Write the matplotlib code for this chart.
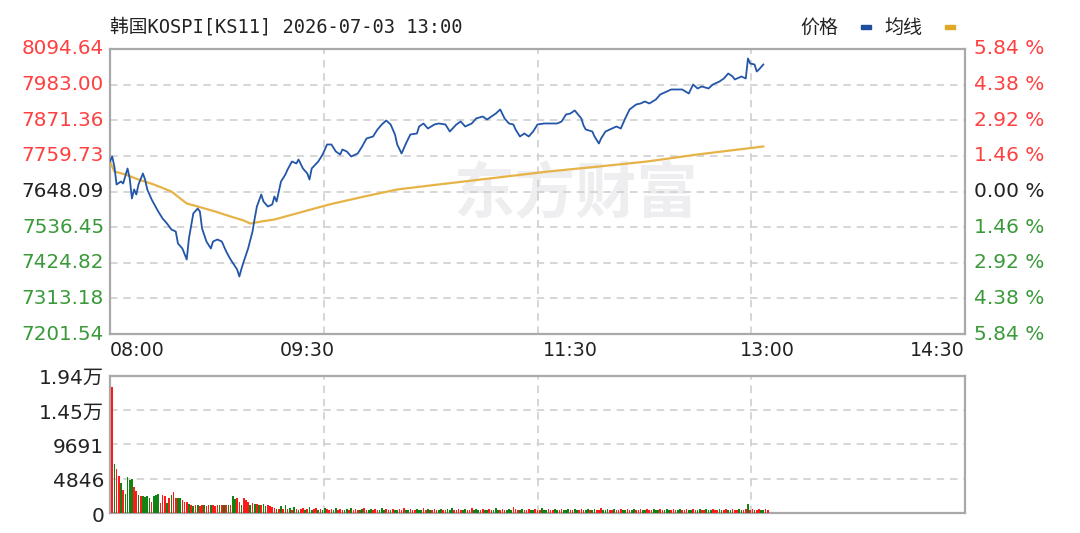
import matplotlib
matplotlib.use("Agg")
import matplotlib.pyplot as plt
from matplotlib.transforms import blended_transform_factory, ScaledTranslation
from matplotlib.patches import Rectangle

plt.rcParams['font.family'] = ['DejaVu Sans', 'Noto Sans CJK SC']

# ---- data ----
title = "韩国KOSPI[KS11] 2026-07-03 13:00"
prev_close = 7648.09
price_ticks = [8094.64, 7983.00, 7871.36, 7759.73, 7648.09, 7536.45, 7424.82, 7313.18, 7201.54]
pct_labels = ["5.84 %", "4.38 %", "2.92 %", "1.46 %", "0.00 %", "1.46 %", "2.92 %", "4.38 %", "5.84 %"]
time_labels = ["08:00", "09:30", "11:30", "13:00", "14:30"]
time_minutes = [0, 90, 210, 300, 390]
vol_ticks = [19382, 14537, 9691, 4846, 0]
vol_labels = ["1.94万", "1.45万", "9691", "4846", "0"]

# minutes after 08:00 / price
price_min = [0, 1, 2, 3, 5, 6, 8, 9, 10, 11, 12, 13, 15, 16, 17, 19, 20, 22, 24, 26,
             28, 30, 31, 33, 35, 36, 38, 40, 41, 42, 44, 46, 47, 49, 51, 53, 55, 58, 59, 60,
             61, 63, 65, 66, 67, 69, 70, 72, 74, 75, 76, 78, 80, 81, 83, 85, 86, 88, 90, 91,
             92, 95, 97, 99, 101, 103, 105, 106, 108, 110, 113, 115, 117, 120, 122, 124, 126, 128, 130, 131,
             133, 134, 135, 137, 140, 141, 143, 145, 148, 150, 153, 155, 158, 160, 162, 165, 167, 170, 172, 174,
             176, 178, 180, 182, 184, 185, 187, 189, 191, 193, 195, 198, 201, 204, 206, 208, 210, 212, 215, 216,
             217, 220, 221, 223, 224, 226, 229, 231, 233, 235, 237, 240, 242, 244, 246, 249, 251, 254, 256, 258,
             261, 264, 266, 268, 270, 273, 275, 278, 280, 282, 284, 285, 288, 290, 291, 292, 294, 295, 296, 298]
price_val = [7742.1, 7757.8, 7726.4, 7670.0, 7679.4, 7673.2, 7720.2, 7688.8, 7626.2, 7654.4,
             7638.7, 7670.0, 7704.5, 7685.7, 7654.4, 7623.0, 7610.5, 7585.4, 7563.5, 7547.8,
             7529.0, 7522.7, 7485.1, 7469.5, 7435.0, 7500.8, 7579.2, 7594.8, 7585.4, 7532.1,
             7491.4, 7469.5, 7491.4, 7497.7, 7491.4, 7460.1, 7435.0, 7403.6, 7381.7, 7406.8,
             7428.7, 7469.5, 7522.7, 7563.5, 7601.1, 7638.7, 7616.8, 7601.1, 7607.4, 7632.4,
             7616.8, 7679.4, 7701.4, 7717.0, 7742.1, 7735.9, 7748.4, 7720.2, 7704.5, 7685.7,
             7720.2, 7742.1, 7764.1, 7795.4, 7795.4, 7773.5, 7764.1, 7779.7, 7773.5, 7757.8,
             7767.2, 7789.1, 7814.2, 7820.5, 7842.4, 7858.1, 7870.6, 7858.1, 7826.7, 7795.4,
             7767.2, 7782.9, 7798.5, 7826.7, 7829.9, 7851.8, 7861.2, 7845.5, 7858.1, 7861.2,
             7858.1, 7836.1, 7858.1, 7867.5, 7851.8, 7861.2, 7876.9, 7883.2, 7873.7, 7883.2,
             7892.6, 7905.1, 7876.9, 7861.2, 7858.1, 7842.4, 7820.5, 7829.9, 7820.5, 7836.1,
             7858.1, 7861.2, 7861.2, 7861.2, 7867.5, 7889.4, 7892.6, 7902.0, 7876.9, 7855.0,
             7842.4, 7836.1, 7820.5, 7798.5, 7814.2, 7836.1, 7845.5, 7851.8, 7845.5, 7876.9,
             7905.1, 7920.8, 7923.9, 7930.2, 7923.9, 7936.4, 7952.1, 7961.5, 7967.8, 7967.8,
             7967.8, 7955.2, 7983.4, 7970.9, 7977.2, 7970.9, 7983.4, 7992.8, 8002.2, 8017.9,
             8008.5, 7999.1, 8008.5, 8002.2, 8064.9, 8049.3, 8046.1, 8024.2, 8030.4, 8046.1]

avg_min = [0, 2, 7, 13, 20, 28, 35, 40, 48, 55, 61, 64, 69, 75, 85, 100, 116, 131, 146, 177,
           200, 223, 245, 268, 298]
avg_val = [7742.1, 7710.8, 7701.4, 7685.7, 7670.0, 7648.1, 7610.5, 7601.1, 7585.4, 7569.7,
           7557.2, 7547.8, 7554.1, 7560.3, 7579.2, 7607.4, 7632.4, 7654.4, 7666.9, 7692.0,
           7710.8, 7726.4, 7742.1, 7764.1, 7789.1]

# one volume bar per minute, 08:00 .. 13:00
volume = [0, 17830, 6880, 6180, 5190, 4210, 3230, 2670, 5050, 4630,
          4770, 3650, 3090, 2530, 2390, 2390, 2250, 2390, 2110, 1540,
          2390, 2530, 2670, 1400, 2530, 2390, 1400, 2110, 2530, 2950,
          2110, 2110, 2110, 1830, 1540, 1540, 1260, 1120, 980, 1120,
          1120, 980, 1120, 1120, 980, 1120, 1120, 1120, 980, 1120,
          1120, 1120, 1120, 1120, 1120, 1120, 2390, 1970, 2110, 1540,
          1120, 2110, 1830, 1540, 1120, 1400, 1260, 1260, 1120, 1120,
          1260, 980, 1120, 980, 840, 700, 560, 560, 980, 560,
          1120, 560, 700, 420, 840, 560, 420, 560, 700, 420,
          560, 840, 420, 560, 700, 420, 560, 420, 700, 560,
          420, 560, 420, 700, 420, 560, 420, 420, 560, 420,
          700, 420, 560, 420, 420, 560, 700, 420, 420, 560,
          420, 560, 420, 420, 700, 420, 560, 420, 420, 560,
          420, 420, 560, 420, 700, 420, 420, 560, 420, 420,
          560, 420, 420, 700, 420, 560, 420, 420, 560, 420,
          420, 560, 420, 420, 560, 420, 700, 420, 420, 560,
          420, 420, 560, 420, 420, 700, 420, 560, 420, 420,
          560, 420, 420, 560, 420, 420, 700, 420, 420, 560,
          420, 420, 560, 420, 840, 560, 420, 420, 560, 420,
          420, 560, 420, 420, 560, 420, 420, 700, 420, 420,
          560, 420, 420, 560, 420, 420, 560, 420, 420, 560,
          420, 420, 560, 420, 420, 560, 420, 420, 560, 420,
          420, 560, 420, 420, 700, 420, 420, 560, 420, 420,
          560, 420, 420, 560, 420, 420, 560, 420, 420, 560,
          420, 420, 560, 420, 420, 560, 420, 420, 560, 420,
          420, 560, 420, 420, 560, 420, 420, 560, 420, 420,
          560, 420, 420, 560, 420, 420, 560, 420, 420, 560,
          420, 420, 560, 420, 420, 560, 420, 420, 560, 420,
          420, 560, 420, 420, 560, 420, 420, 560, 420, 420,
          560, 1260, 420, 560, 420, 420, 560, 420, 420, 560,
          420]
vol_dir = "".join([
    "rrgrrgrggg", "grrgrggggr", "gggrrrgrgr", "rggrrrgrgr", "grrgrrgrrr",
    "grgrgrggrr", "grrrgrgrgr", "ggrrrrgrgr", "grgrgrgrrg", "rggrrgrggr",
    "rrggrrrggr", "grrrggrrgg", "rrrgggrrgr", "ggrrrggrrr", "gggrrggrrr",
    "ggrrgggrrr", "rggrrrgggr", "rggrrgggrr", "rgggrrrggr", "rrggrrrggg",
    "rrrggrrggg", "rrggrrrggr", "ggrrrgggrr", "grrrggrrgg", "rrrggrrrgg",
    "grrgggrrrg", "grrrggrrgg", "rrgggrrrgg", "rrggrrrggr", "rgrrgrrggr",
    "r"])

# ---- colours ----
RED = "#ff4040"
GREEN = "#3a9a3a"
GRID = "#cfcfcf"
EDGE = "#a9a9a9"
BLUE = "#2356a8"
GOLD = "#e6b347"

W, H = 1080, 533
fig = plt.figure(figsize=(W / 100, H / 100), dpi=100)
ax1 = fig.add_axes([110 / W, 1 - 334 / H, 855 / W, 285 / H])
ax2 = fig.add_axes([110 / W, 1 - 513 / H, 855 / W, 137.5 / H])

for ax in (ax1, ax2):
    ax.set_xlim(0, 390)
    ax.set_xticks([])
    ax.set_yticks([])
    for s in ax.spines.values():
        s.set_color(EDGE)
        s.set_linewidth(1.6)
    for q in (97.5, 195, 292.5):
        ax.axvline(q, color=GRID, lw=1.2, dashes=(4.5, 3.5), zorder=1)

# ---- price panel ----
ax1.set_ylim(price_ticks[-1], price_ticks[0])
for p in price_ticks[1:-1]:
    ax1.axhline(p, color=GRID, lw=1.2, dashes=(4.5, 3.5), zorder=1)

ax1.text(0.545, 0.49, "东方财富", transform=ax1.transAxes, fontsize=44, fontweight="bold",
         family="Noto Sans CJK SC", color="#eeeef1", ha="center", va="center", zorder=0)

ax1.plot(avg_min, avg_val, color=GOLD, lw=1.6, zorder=3)
ax1.plot(price_min, price_val, color=BLUE, lw=1.3, zorder=4)

left_tr = blended_transform_factory(ax1.transAxes, ax1.transData)
for p, pct in zip(price_ticks, pct_labels):
    if p > prev_close + 0.01:
        c = RED
    elif p < prev_close - 0.01:
        c = GREEN
    else:
        c = "#222222"
    ax1.text(-0.007, p, f"{p:.2f}", transform=left_tr, ha="right", va="center",
             color=c, fontsize=14.3)
    ax1.text(1.011, p, pct, transform=left_tr, ha="left", va="center",
             color=c, fontsize=14.5)

bottom_tr = blended_transform_factory(ax1.transData, ax1.transAxes)
for i, (lab, t) in enumerate(zip(time_labels, time_minutes)):
    ha = "left" if i == 0 else ("right" if i == len(time_labels) - 1 else "center")
    ax1.text(t, -0.058, lab, transform=bottom_tr, ha=ha, va="center",
             color="#222222", fontsize=13.7)

# ---- volume panel ----
ax2.set_ylim(0, vol_ticks[0])
for v in vol_ticks[1:-1]:
    ax2.axhline(v, color=GRID, lw=1.2, dashes=(4.5, 3.5), zorder=1)
bar_colors = ["#ff1a1a" if d == "r" else "#128212" for d in vol_dir]
ax2.bar(range(len(volume)), volume, width=0.75, color=bar_colors, zorder=3)

# labels sit a few pixels below their gridlines in the reference
vol_tr = blended_transform_factory(ax2.transAxes, ax2.transData) + \
    ScaledTranslation(0, -3 / 100, fig.dpi_scale_trans)
for v, lab in zip(vol_ticks, vol_labels):
    ax2.text(-0.007, v, lab, transform=vol_tr, ha="right", va="center",
             color="#222222", fontsize=14.5)

# ---- header ----
fig.text(110 / W, 1 - 27 / H, title, family=["DejaVu Sans Mono", "Noto Sans CJK SC"],
         fontsize=13.5, va="center", ha="left", color="#222222")
fig.text(838 / W, 1 - 27 / H, "价格", fontsize=13.7, ha="right", va="center", color="#222222")
fig.patches.append(Rectangle((861 / W, 1 - 29 / H), 10 / W, 4 / H,
                             transform=fig.transFigure, color="#1f4e9e"))
fig.text(922 / W, 1 - 27 / H, "均线", fontsize=13.7, ha="right", va="center", color="#222222")
fig.patches.append(Rectangle((945 / W, 1 - 29 / H), 10 / W, 4 / H,
                             transform=fig.transFigure, color="#e0a825"))

fig.savefig("out.png", dpi=100)
